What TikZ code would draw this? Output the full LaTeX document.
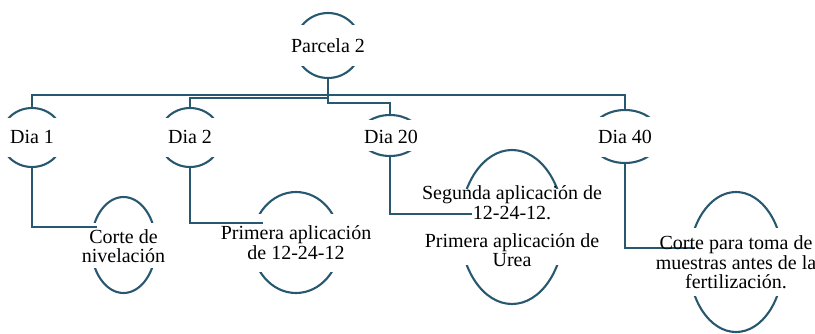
\documentclass[tikz,border=0pt]{standalone}
\usepackage{fontspec}
\setmainfont{Liberation Serif}
\usetikzlibrary{calc,shapes.geometric}
\definecolor{linec}{RGB}{40,88,112}
\tikzset{
  oval/.style={draw=linec, line width=2.1pt},
  conn/.style={draw=linec, line width=2.1pt},
  holder/.style={ellipse, draw=none, inner sep=0pt},
  lbl/.style={inner sep=0pt, align=center, text=black, font=\fontsize{20}{19.5}\selectfont}
}
\newcommand\ovalarcs[4]{%
  \begin{scope}
    \clip ($(#1.center)+(-#2-4,-#3-4)$) rectangle ($(#1.center)+(#2+4,-#4)$);
    \draw[oval] (#1.center) ellipse [x radius=#2pt, y radius=#3pt];
  \end{scope}
  \begin{scope}
    \clip ($(#1.center)+(-#2-4,#3+4)$) rectangle ($(#1.center)+(#2+4,#4)$);
    \draw[oval] (#1.center) ellipse [x radius=#2pt, y radius=#3pt];
  \end{scope}}
\begin{document}
\begin{tikzpicture}[x=1pt,y=-1pt]
\useasboundingbox (0,0) rectangle (815,333);
% outline holders
\node[holder, minimum width=66pt, minimum height=65pt] (P) at (328,45.5) {};
\node[holder, minimum width=62pt, minimum height=59pt] (D1) at (32,137.5) {};
\node[holder, minimum width=62pt, minimum height=59pt] (D2) at (190,137.5) {};
\node[holder, minimum width=60pt, minimum height=41pt] (D20) at (390,135.5) {};
\node[holder, minimum width=70pt, minimum height=53pt] (D40) at (625,136.5) {};
\node[holder, minimum width=65pt, minimum height=96pt] (C1) at (123.5,245) {};
\node[holder, minimum width=88pt, minimum height=101pt] (C2) at (296,242.5) {};
\node[holder, minimum width=104pt, minimum height=154pt] (C3) at (512,227) {};
\node[holder, minimum width=94pt, minimum height=140pt] (C4) at (736,262) {};
% arcs
\ovalarcs{P}{33}{32.5}{21}
\ovalarcs{D1}{31}{29.5}{20}
\ovalarcs{D2}{31}{29.5}{20}
\ovalarcs{D20}{30}{20.5}{16}
\ovalarcs{D40}{35}{26.5}{20.5}
\ovalarcs{C1}{32.5}{48}{23}
\ovalarcs{C2}{44}{50.5}{29.5}
\ovalarcs{C3}{52}{77}{38.5}
\ovalarcs{C4}{47}{70}{34.5}
% bus levels and connector ends
\coordinate (busA) at (0,95);
\coordinate (busB) at (0,98);
\coordinate (busC) at (0,103);
\coordinate (c1in) at (97,227);
\coordinate (c2in) at (263,223);
\coordinate (c3in) at (472,214);
\coordinate (c4in) at (695,248);
% connectors
\draw[conn] (P.south) |- (D1.north |- busA) -- (D1.north);
\draw[conn] (P.south) |- (D40.north |- busA) -- (D40.north);
\draw[conn] (P.south) |- (D2.north |- busB) -- (D2.north);
\draw[conn] (P.south) |- (D20.north |- busC) -- (D20.north);
\draw[conn] (D1.south) |- (c1in);
\draw[conn] (D2.south) |- (c2in);
\draw[conn] (D20.south) |- (c3in);
\draw[conn] (D40.south) |- (c4in);
% texts
\node[lbl] (Pt) at (328,45.5) {Parcela 2};
\node[lbl] (D1t) at (32,137) {Dia 1};
\node[lbl] (D2t) at (190,137) {Dia 2};
\node[lbl] (D20t) at (391,137) {Dia 20};
\node[lbl] (D40t) at (625,137) {Dia 40};
\node[lbl] (C1t) at (123.5,246) {Corte de\\nivelación};
\node[lbl] (C2t) at (296,242.5) {Primera aplicación\\de 12-24-12};
\node[lbl] (C3t) at (512,226.5) {Segunda aplicación de\\12-24-12.\\[8.5pt]Primera aplicación de\\Urea};
\node[lbl] (C4t) at (736,262.5) {Corte para toma de\\muestras antes de la\\fertilización.};
\end{tikzpicture}
\end{document}
